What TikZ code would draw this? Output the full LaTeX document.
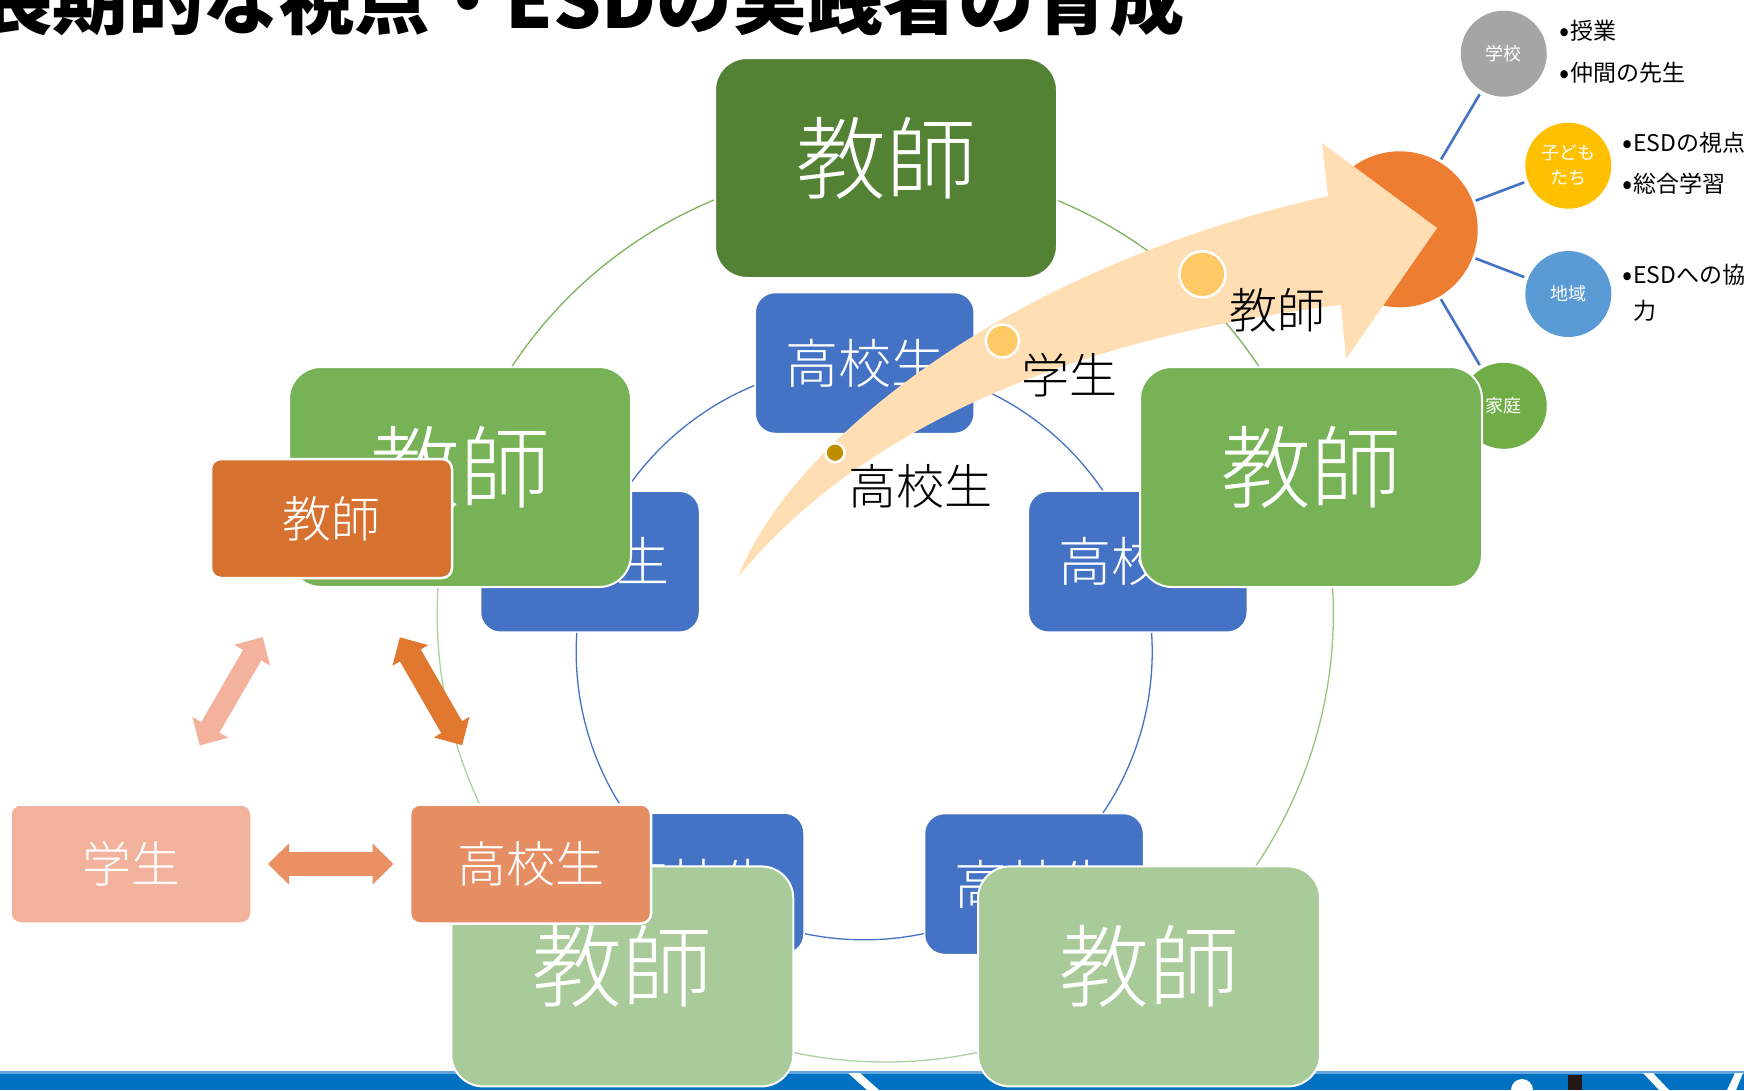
\documentclass[tikz,border=0pt]{standalone}
\usepackage{fontspec}
\usepackage{graphicx}
\newfontfamily\jp{Noto Sans CJK JP}
\newfontfamily\jpl{Noto Sans CJK JP Light}
\usetikzlibrary{arrows.meta}
\definecolor{dgreen}{HTML}{548235}
\definecolor{mgreen}{HTML}{78B256}
\definecolor{lgreen}{HTML}{A9CA99}
\definecolor{bblue}{HTML}{4472C4}
\definecolor{cTeaO}{HTML}{D77130}
\definecolor{cStu}{HTML}{F2B29B}
\definecolor{cKou}{HTML}{E68E63}
\definecolor{cArrS}{HTML}{F2B29B}
\definecolor{cArrO}{HTML}{E0782F}
\definecolor{cArrH}{HTML}{EB9063}
\definecolor{peach}{HTML}{FFDEB4}
\definecolor{cDotS}{HTML}{BF8F00}
\definecolor{cDotM}{HTML}{FFC966}
\definecolor{cOrange}{HTML}{ED7D31}
\definecolor{cGray}{HTML}{A5A5A5}
\definecolor{cYellow}{HTML}{FFC000}
\definecolor{cBlue2}{HTML}{5B9BD5}
\definecolor{cGreen2}{HTML}{70AD47}
\definecolor{band}{HTML}{0070C0}
\definecolor{bandlight}{HTML}{62A6DC}
\definecolor{barblack}{HTML}{231815}
\definecolor{arcTopC}{HTML}{7DB35C}
\definecolor{arcRightC}{HTML}{98C57E}
\definecolor{arcLowC}{HTML}{AFD09F}
\newcommand\bul{\makebox[11pt][l]{\raisebox{-1.5pt}{\fontsize{30}{30}\selectfont •}}}
\tikzset{
  gbox/.style={draw=white, line width=2pt, rounded corners=32pt, minimum width=342pt,
    minimum height=220pt, text=white, inner sep=0pt, text height=75pt, text depth=26pt,
    font=\jpl\fontsize{90}{90}\selectfont},
  bbox/.style={draw=white, line width=1.5pt, fill=bblue, rounded corners=20pt,
    minimum width=219pt, minimum height=141pt, text=white, inner sep=0pt,
    font=\jpl\fontsize{53}{53}\selectfont},
  obox/.style={draw=white, line width=2.5pt, rounded corners=10pt, minimum width=241pt,
    minimum height=119pt, text=white, inner sep=0pt,
    font=\jpl\fontsize{49}{49}\selectfont},
  dblarrow/.style={{Triangle[length=21pt,width=40pt]}-{Triangle[length=21pt,width=40pt]},
    shorten <=137pt, shorten >=137pt},
  scirc/.style={circle, minimum size=86pt, inner sep=0pt, text=white, align=center,
    font=\jp\fontsize{18}{25}\selectfont},
  ocirc/.style={circle, minimum size=156pt, inner sep=0pt, fill=cOrange},
  link/.style={draw=bblue, line width=2.6pt, shorten <=3pt, shorten >=4pt},
  sidelbl/.style={anchor=west, inner sep=0pt, text=black, align=left,
    font=\jp\fontsize{23}{36}\selectfont},
  dotmark/.style={circle, draw=white, line width=2.5pt, inner sep=0pt},
  arrlbl/.style={inner sep=0pt, text=black, font=\jpl\fontsize{48}{48}\selectfont},
  titlestyle/.style={anchor=base west, inner sep=0pt, text=black,
    font=\jp\bfseries\fontsize{75.5}{76}\selectfont},
  arcline/.style={line width=1.3pt}
}
\begin{document}
\begin{tikzpicture}[x=1pt,y=-1pt]
\useasboundingbox (0,0) rectangle (1744,1090);
\fill[white] (0,0) rectangle (1744,1090);

% background band
\fill[band] (0,1072) rectangle (1744,1090);
\fill[bandlight] (0,1071) rectangle (1744,1073.5);
\fill[white] (848,1073) -- (860,1073) -- (879,1090) -- (867,1090) -- cycle;
\fill[white] (1522,1090) circle[radius=11pt];
\fill[barblack] (1568,1075) rectangle (1582,1090);
\fill[white] (1643,1073) -- (1653,1073) -- (1669,1090) -- (1659,1090) -- cycle;
\fill[white] (1727,1090) -- (1736,1090) -- (1743,1073) -- (1735,1073) -- cycle;

% cycle arcs
\coordinate (Co) at (885.3,614);
\coordinate (Ci) at (864.2,651.8);
\draw[arcline, draw=bblue] (Ci) circle[radius=288pt];
\draw[arcline, draw=arcTopC] (Co) ++(18:448pt) arc[start angle=18, end angle=162, radius=448pt];
\draw[arcline, draw=arcLowC] (Co) ++(162:448pt) arc[start angle=162, end angle=306, radius=448pt];
\draw[arcline, draw=arcRightC] (Co) ++(-54:448pt) arc[start angle=-54, end angle=18, radius=448pt];

% blue boxes
\node[bbox] (b1) at (864.7,363) {高校生};
\node[bbox] (b2) at (1137.8,561.7) {高校生};
\node[bbox] (b3) at (1034,884) {高校生};
\node[bbox] (b4) at (694.5,883.5) {高校生};
\node[bbox] (b5) at (590,561.7) {高校生};

% hub with circles
\node[ocirc] (oc) at (1399.7,229.3) {};
\node[scirc, fill=cGray] (gk) at (1503.7,53.7) {学校};
\node[scirc, fill=cYellow] (kd) at (1568.3,165.7) {子ども\\たち};
\node[scirc, fill=cBlue2] (ci) at (1568.3,294) {地域};
\node[scirc, fill=cGreen2] (kt) at (1503.7,405.8) {家庭};
\foreach \n in {gk,kd,ci,kt} \draw[link] (oc) -- (\n);
\node[sidelbl] (l1) at (1559,31) {\bul 授業};
\node[sidelbl] (l2) at (1559,73) {\bul 仲間の先生};
\node[sidelbl] (l3) at (1622,143) {\bul ESDの視点};
\node[sidelbl] (l4) at (1622,184) {\bul 総合学習};
\node[sidelbl] (l5) at (1622,293) {\bul ESDへの協\\\hspace*{11pt}力};

% green boxes
\node[gbox, fill=dgreen] (g1) at (886,168) {教師};
\node[gbox, fill=mgreen] (g2) at (1311,477) {教師};
\node[gbox, fill=lgreen] (g3) at (1149,976.4) {教師};
\node[gbox, fill=lgreen] (g4) at (622.3,976.4) {教師};
\node[gbox, fill=mgreen] (g5) at (460,477) {教師};

% orange cluster
\node[obox, fill=cTeaO] (ot) at (331.5,518.5) {教師};
\node[obox, fill=cStu] (os) at (131,864) {学生};
\node[obox, fill=cKou] (ok) at (530.5,864) {高校生};
\draw[dblarrow, draw=cArrS, fill=cArrS, line width=21pt] (os.center) -- (ot.center);
\draw[dblarrow, draw=cArrO, fill=cArrO, line width=24pt] (ok.center) -- (ot.center);
\draw[dblarrow, draw=cArrH, fill=cArrH, line width=24pt] (os.center) -- (ok.center);

% big curved arrow
\fill[peach] (738,577) .. controls (790,445) and (1000,270) .. (1328,196)
  -- (1322,143) -- (1437,228) -- (1346,359) -- (1341,305)
  .. controls (1050,340) and (850,440) .. (738,577) -- cycle;
\node[dotmark, minimum size=19pt, fill=cDotS] (d1) at (835,452.7) {};
\node[dotmark, minimum size=33pt, fill=cDotM] (d2) at (1002.4,341) {};
\node[dotmark, minimum size=46pt, fill=cDotM] (d3) at (1202.4,274.3) {};
\node[arrlbl] (t1) at (920,486.5) {高校生};
\node[arrlbl] (t2) at (1069.5,375) {学生};
\node[arrlbl] (t3) at (1277.7,310) {教師};

% title
\node[titlestyle] (title) at (-23,28) {長期的な視点・ESDの実践者の育成};
\end{tikzpicture}
\end{document}
